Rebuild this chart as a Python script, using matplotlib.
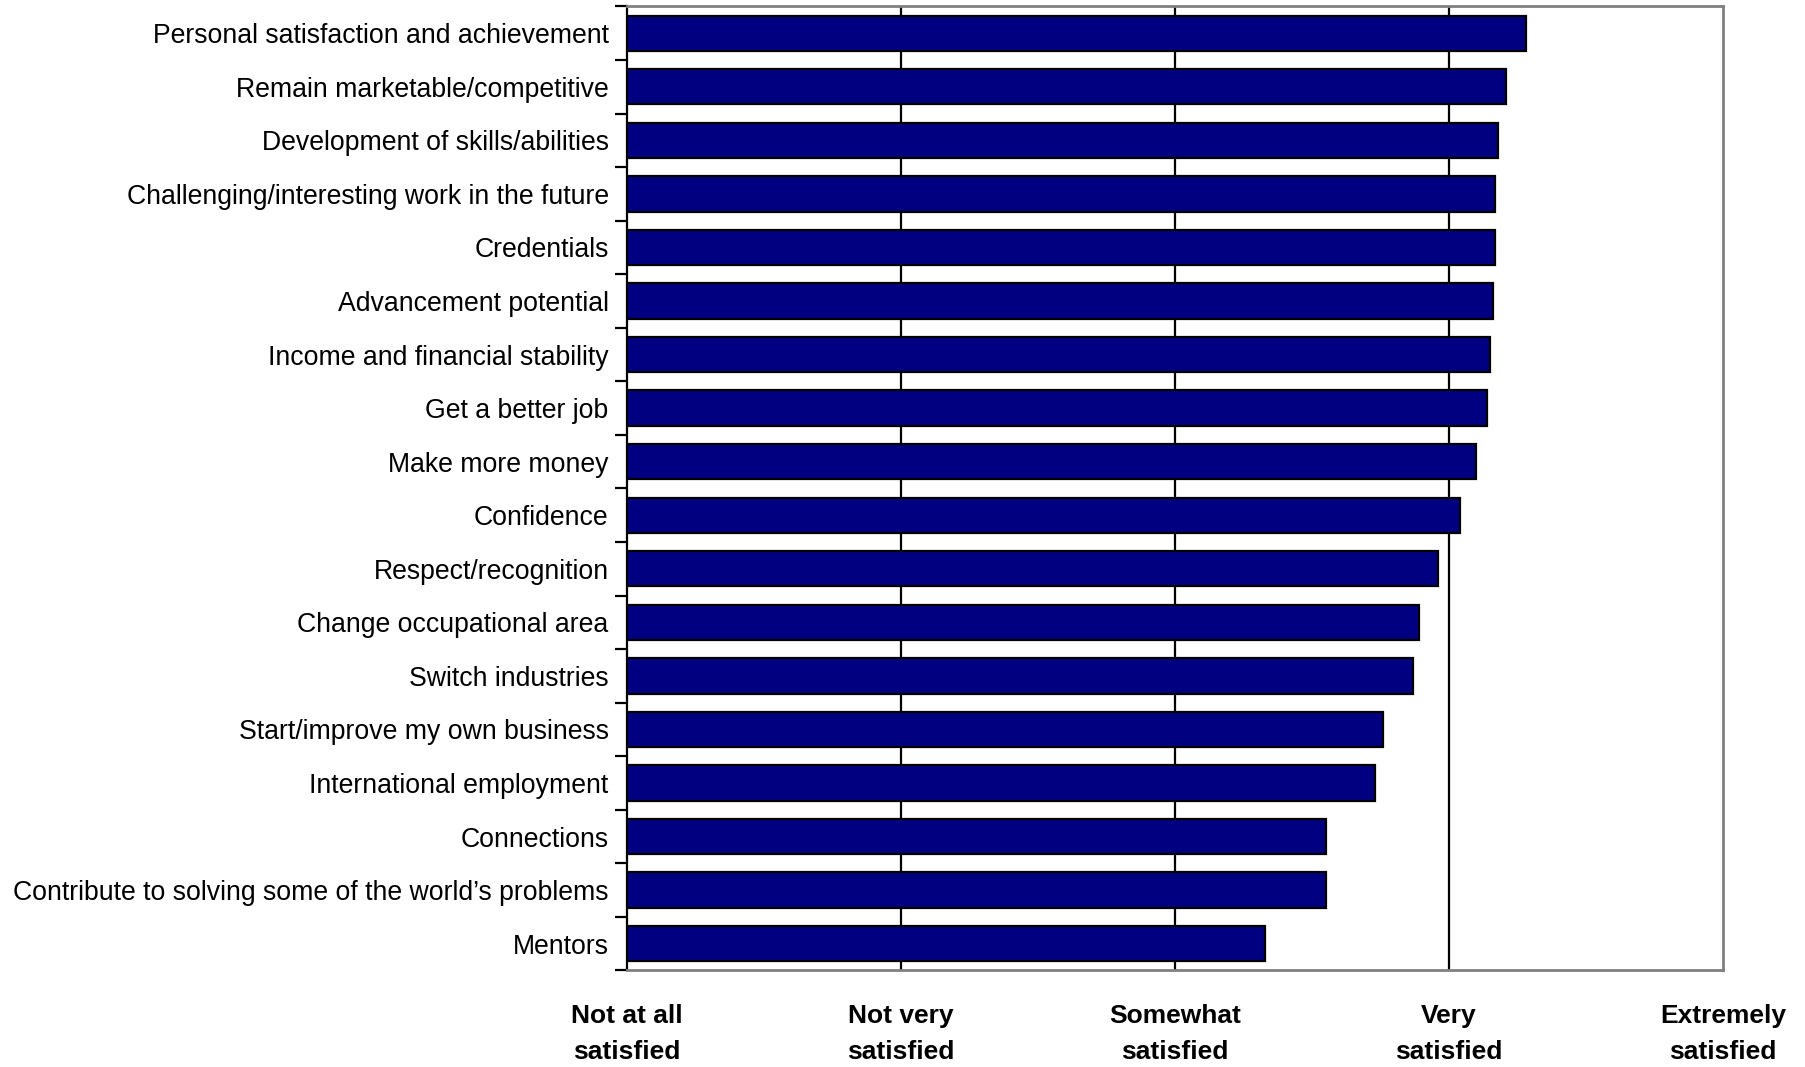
import matplotlib
matplotlib.use("Agg")
import matplotlib.pyplot as plt
import numpy as np

categories = [
    "Personal satisfaction and achievement",
    "Remain marketable/competitive",
    "Development of skills/abilities",
    "Challenging/interesting work in the future",
    "Credentials",
    "Advancement potential",
    "Income and financial stability",
    "Get a better job",
    "Make more money",
    "Confidence",
    "Respect/recognition",
    "Change occupational area",
    "Switch industries",
    "Start/improve my own business",
    "International employment",
    "Connections",
    "Contribute to solving some of the world\u2019s problems",
    "Mentors",
]
values = [4.28, 4.21, 4.18, 4.17, 4.17, 4.16, 4.15, 4.14, 4.10, 4.04,
          3.96, 3.89, 3.87, 3.76, 3.73, 3.55, 3.55, 3.33]
scale_values = [1, 2, 3, 4, 5]
scale_labels = ["Not at all\nsatisfied", "Not very\nsatisfied", "Somewhat\nsatisfied",
                "Very\nsatisfied", "Extremely\nsatisfied"]

plt.rcParams['font.family'] = ['Liberation Sans', 'DejaVu Sans']

fig = plt.figure(figsize=(18.06, 10.67), dpi=100)
ax = fig.add_axes([0.347, 0.0905, 0.607, 0.9035])

n = len(categories)
y = np.arange(n)
base = scale_values[0]
ax.barh(y, [v - base for v in values], left=base, height=0.66,
        color="#000080", edgecolor="black", linewidth=1.6, zorder=3)

ax.set_xlim(scale_values[0], scale_values[-1])
ax.set_ylim(n - 0.5, -0.5)

ax.set_xticks(scale_values)
ax.set_xticklabels(scale_labels, fontsize=19, fontweight="bold", linespacing=1.62)
ax.tick_params(axis="x", length=0, pad=24)

ax.set_yticks(y)
ax.set_yticklabels(categories, fontsize=19.2)
ax.set_yticks(np.arange(n + 1) - 0.5, minor=True)
ax.tick_params(axis="y", which="major", length=0, pad=13)
ax.tick_params(axis="y", which="minor", length=9, width=1.6, color="black")

for xv in scale_values[1:-1]:
    ax.axvline(xv, color="black", linewidth=1.6, zorder=1)

ax.spines["left"].set_color("black")
ax.spines["left"].set_linewidth(1.6)
for s in ["top", "right", "bottom"]:
    ax.spines[s].set_color("#808080")
    ax.spines[s].set_linewidth(2)

fig.savefig("out.png", dpi=100)
